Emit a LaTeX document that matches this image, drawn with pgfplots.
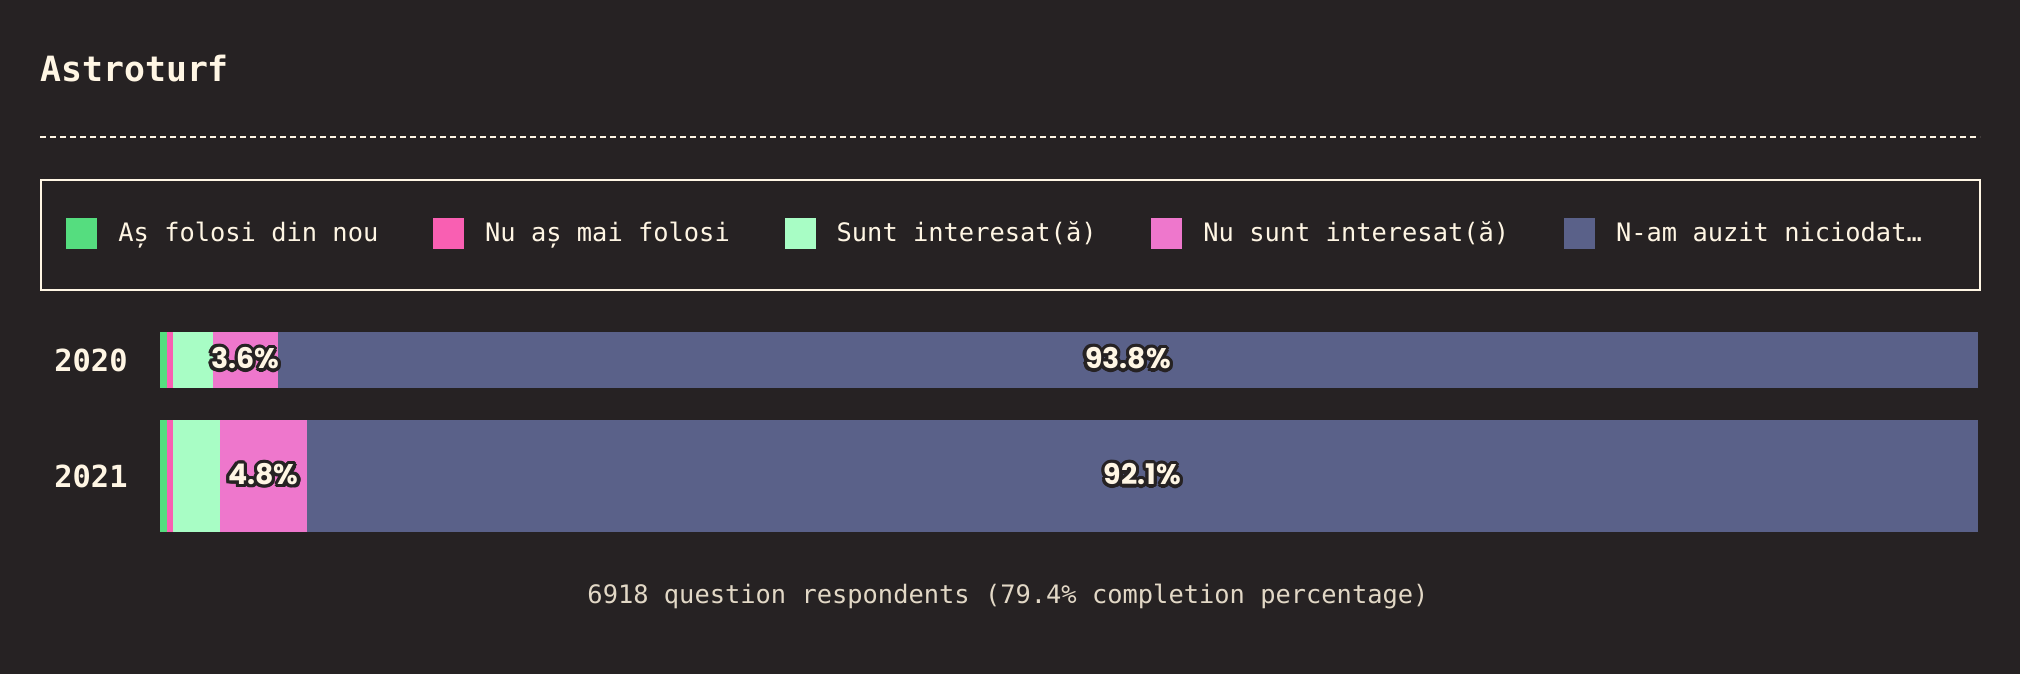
\documentclass[border=0pt]{standalone}
\usepackage{pgfplots}
\pgfplotsset{compat=1.18}
\usepackage{fontspec}
\setmainfont{DejaVu Sans Mono}
\newfontfamily\labfont{Poppins}
\usepackage{contour}
\contourlength{1.6pt}
\contournumber{16}
\definecolor{bg}{HTML}{262223}
\definecolor{cream}{HTML}{FFF6E4}
\definecolor{footc}{HTML}{E2D8C6}
\definecolor{cA}{HTML}{55DD7F}
\definecolor{cB}{HTML}{F95FB2}
\definecolor{cC}{HTML}{A8FDC5}
\definecolor{cD}{HTML}{EE77CC}
\definecolor{cE}{HTML}{5A6189}
\pgfplotsset{
  barax/.style={
    at={(80pt,-266pt)}, anchor=south west,
    scale only axis, width=909pt, height=100pt,
    xmin=0, ymin=0, ymax=200,
    axis line style={draw=none}, xtick=\empty, ytick=\empty,
    major tick length=0pt,
  },
  barlab/.style={
    draw=none, mark=none,
    point meta=explicit symbolic,
    nodes near coords={\contour{bg}{\pgfplotspointmeta}},
    every node near coord/.style={anchor=center, inner sep=0pt, text=cream, font=\labfont\bfseries\fontsize{14.2}{17}\selectfont},
  },
}
\begin{document}
\begin{tikzpicture}
\useasboundingbox (0,0) rectangle (1010pt,-337pt);
\fill[bg] (0,0) rectangle (1010pt,-337pt);
\node[anchor=base west, inner sep=0pt, text=cream, font=\bfseries\fontsize{17.4}{20}\selectfont] at (20pt,-41pt) {Astroturf};
\draw[cream, line width=0.6pt, dash pattern=on 3pt off 2pt] (20pt,-68.5pt) -- (990pt,-68.5pt);
\draw[cream, line width=0.8pt] (20.5pt,-90pt) rectangle (990pt,-145pt);
% 2020 bar
\begin{axis}[barax, xmax=100.3,
  xbar stacked, bar width=56,
  ytick={172,56}, yticklabels={2020,2021},
  yticklabel style={inner sep=0pt, xshift=-16pt, anchor=east, text=cream, font=\bfseries\fontsize{15.2}{18}\selectfont},
  legend columns=5,
  legend style={at={(-0.0517,1.495)}, anchor=west, draw=none, fill=none,
    inner xsep=0pt, inner ysep=0pt, text=cream,
    font=\fontsize{12.7}{15}\selectfont,
    nodes={inner sep=0pt},
    /tikz/every odd column/.append style={column sep=10.5pt},
    /tikz/every even column/.append style={column sep=27.4pt}},
  legend cell align=left,
  legend image code/.code={\fill[#1] (0pt,-7.75pt) rectangle (15.5pt,7.75pt);},
]
\addplot[fill=cA, draw=none] coordinates {(0.4,172)};
\addlegendentry{Aș folosi din nou}
\addplot[fill=cB, draw=none] coordinates {(0.3,172)};
\addlegendentry{Nu aș mai folosi}
\addplot[fill=cC, draw=none] coordinates {(2.2,172)};
\addlegendentry{Sunt interesat(ă)}
\addplot[fill=cD, draw=none] coordinates {(3.6,172)};
\addlegendentry{Nu sunt interesat(ă)}
\addplot[fill=cE, draw=none] coordinates {(93.8,172)};
\addlegendentry{N-am auzit niciodat…}
\end{axis}
% 2021 bar
\begin{axis}[barax, xmax=100.2, xbar stacked, bar width=112]
\addplot[fill=cA, draw=none] coordinates {(0.4,56)};
\addplot[fill=cB, draw=none] coordinates {(0.3,56)};
\addplot[fill=cC, draw=none] coordinates {(2.6,56)};
\addplot[fill=cD, draw=none] coordinates {(4.8,56)};
\addplot[fill=cE, draw=none] coordinates {(92.1,56)};
\end{axis}
% value labels 2020
\begin{axis}[barax, xmax=100.3]
\addplot[barlab] coordinates {(4.7,172) [3.6\%] (53.4,172) [93.8\%]};
\end{axis}
% value labels 2021
\begin{axis}[barax, xmax=100.2]
\addplot[barlab] coordinates {(5.7,56) [4.8\%] (54.15,56) [92.1\%]};
\end{axis}
\node[anchor=base, text=footc, font=\fontsize{12.7}{15}\selectfont] at (504pt,-301.5pt) {6918 question respondents (79.4\% completion percentage)};
\end{tikzpicture}
\end{document}
